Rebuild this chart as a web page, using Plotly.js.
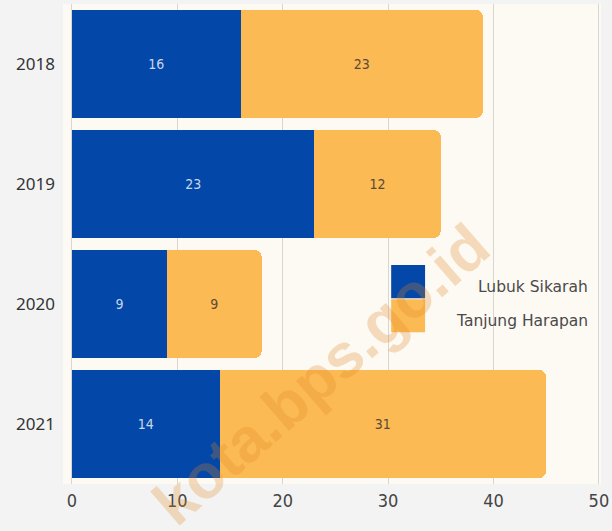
<!DOCTYPE html>
<html>
<head>
<meta charset="utf-8">
<script src="https://cdn.plot.ly/plotly-3.0.1.min.js"></script>
<style>
  html, body { margin: 0; padding: 0; background: #f3f3f3; }
  #myDiv { width: 612px; height: 531px; }
</style>
</head>
<body>
<div id="myDiv"></div>
<script>
var years = ['2018', '2019', '2020', '2021'];
var lubukSikarah = [16, 23, 9, 14];
var tanjungHarapan = [23, 12, 9, 31];
var seriesNames = ['Lubuk Sikarah', 'Tanjung Harapan'];
var seriesColors = ['#0347a8', '#fcba55'];
var xTicks = [0, 10, 20, 30, 40, 50];

var narrow = '"Liberation Sans Narrow", "DejaVu Sans Condensed", Roboto, sans-serif';

var data = [{
  type: 'bar',
  orientation: 'h',
  y: years,
  x: lubukSikarah,
  name: seriesNames[0],
  marker: {color: seriesColors[0]},
  text: lubukSikarah.map(String),
  textposition: 'inside',
  insidetextanchor: 'middle',
  textangle: 0,
  textfont: {family: narrow, size: 14, color: '#c9d6ea'},
  hoverinfo: 'none'
}, {
  type: 'bar',
  orientation: 'h',
  y: years,
  x: tanjungHarapan,
  name: seriesNames[1],
  marker: {color: seriesColors[1]},
  text: tanjungHarapan.map(String),
  textposition: 'inside',
  insidetextanchor: 'middle',
  textangle: 0,
  textfont: {family: narrow, size: 14, color: '#5a4a35'},
  hoverinfo: 'none'
}];

// legend drawn by hand: the big square swatches
var legendShapes = [], legendNotes = [];
seriesNames.forEach(function (n, i) {
  legendShapes.push({
    type: 'rect', xref: 'paper', yref: 'paper', layer: 'above',
    x0: 0.610, x1: 0.673,
    y0: 0.456 - i * 0.071 - 0.069, y1: 0.456 - i * 0.071,
    fillcolor: seriesColors[i], line: {width: 0}
  });
  legendNotes.push({
    xref: 'paper', yref: 'paper', x: 0.98, y: 0.41 - i * 0.071,
    xanchor: 'right', yanchor: 'middle', showarrow: false,
    text: n, font: {family: '"DejaVu Sans", "Noto Sans", sans-serif', size: 15.5, color: '#4a4a4a'}
  });
});

// watermark
legendNotes.push({
  xref: 'paper', yref: 'paper', x: 0.479, y: 0.228,
  xanchor: 'center', yanchor: 'middle', showarrow: false,
  text: '<b>kota.bps.go.id</b>', textangle: -41,
  font: {family: '"Liberation Sans", Arial, sans-serif', size: 62, color: 'rgba(222,135,35,0.27)'}
});

var layout = {
  width: 612,
  height: 531,
  margin: {l: 63, r: 11, t: 4, b: 47},
  paper_bgcolor: '#f3f3f3',
  plot_bgcolor: '#fdf9f3',
  barmode: 'stack',
  bargap: 0.1,
  barcornerradius: 7,
  showlegend: false,
  font: {family: 'Lato, "Noto Sans", sans-serif', color: '#333'},
  xaxis: {
    range: [-0.85, 50.2],
    tickvals: xTicks,
    showgrid: true,
    gridcolor: '#d9d6d2',
    zeroline: false,
    showline: false,
    ticks: '',
    ticklabelstandoff: 4,
    tickfont: {family: narrow, size: 18, color: '#444'},
    fixedrange: true
  },
  yaxis: {
    type: 'category',
    autorange: 'reversed',
    showgrid: false,
    zeroline: false,
    ticks: '',
    ticklabelstandoff: 7,
    tickfont: {family: '"Noto Sans", Lato, sans-serif', size: 17, color: '#333'},
    fixedrange: true
  },
  shapes: legendShapes,
  annotations: legendNotes
};

Plotly.newPlot('myDiv', data, layout, {displayModeBar: false, staticPlot: true});
</script>
</body>
</html>
